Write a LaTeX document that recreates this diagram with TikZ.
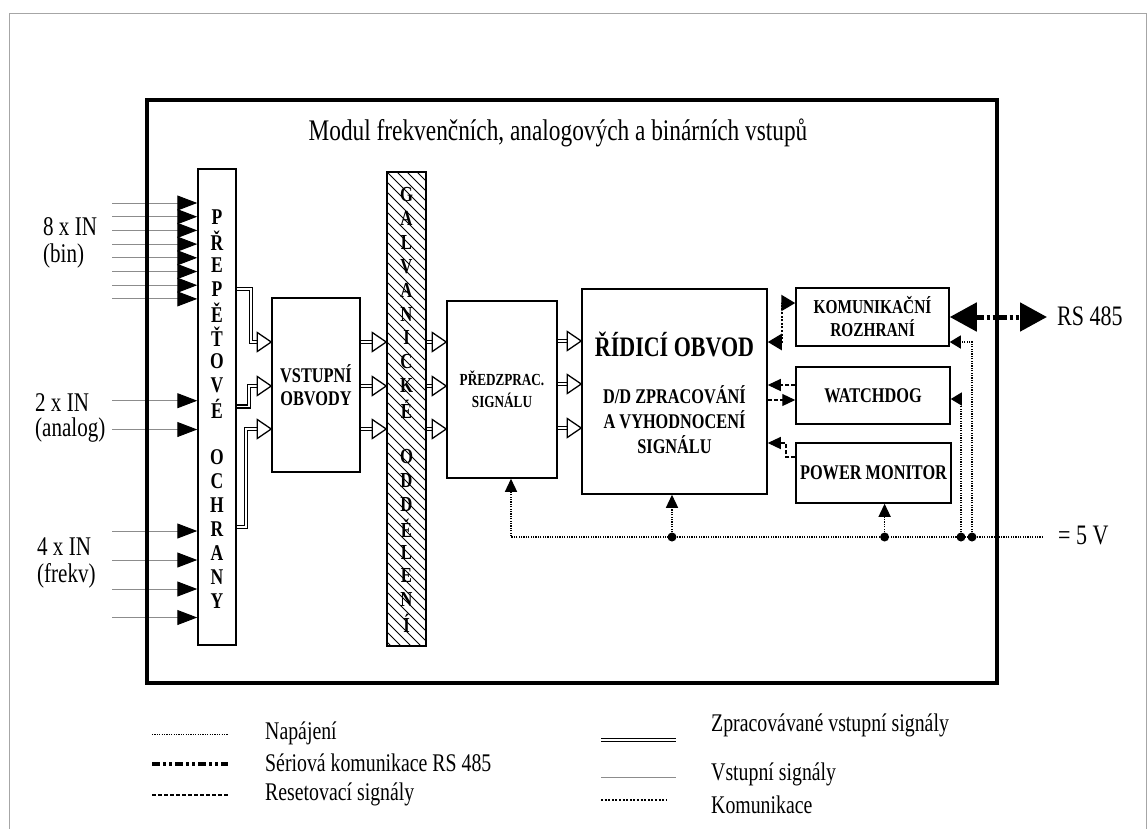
\documentclass[tikz,border=0pt]{standalone}
\usepackage{fontspec}
\setmainfont{Liberation Serif}[FakeStretch=0.78]
\usetikzlibrary{arrows.meta}
\newcommand\fsz[2]{\fontsize{#1}{#2}\selectfont}
\newcommand\harr[1]{\draw[harrow] #1 -- ++(-14,-9.5) -- ++(0,19) -- cycle;}
\tikzset{
  tipK/.tip={Triangle[length=14pt,width=16pt]},
  tipR/.tip={Triangle[length=13pt,width=12pt]},
  tipP/.tip={Triangle[length=13pt,width=12pt]},
  tipQ/.tip={Triangle[length=11pt,width=13pt]},
  tipS/.tip={Triangle[length=27pt,width=28pt]},
  tipI/.tip={Triangle[length=20pt,width=15pt,color=black]}
}
\begin{document}
\begin{tikzpicture}[x=1pt,y=-1pt,
  box/.style={draw, line width=1.5pt, inner sep=0pt},
  btxt/.style={font=\bfseries\fsz{20.9}{23}, align=center},
  vlet/.style={font=\bfseries\fsz{22.5}{22}, inner sep=0pt},
  glet/.style={font=\bfseries\fsz{21.4}{21}, inner sep=0pt},
  lbl/.style={font=\fsz{27}{28}, inner sep=0pt, anchor=base west},
  leg/.style={font=\fsz{25.4}{26}, inner sep=0pt, anchor=west},
  inp/.style={draw=black!45, line width=1pt, -{tipI}},
  dbl/.style={draw=black, double=white, double distance=1.9pt, line width=1.2pt},
  harrow/.style={draw, fill=white, line width=1.3pt, line join=miter},
  komm/.style={line width=2.4pt, dash pattern=on 2pt off 1.6pt},
  reset/.style={line width=1.2pt, dash pattern=on 4pt off 2pt},
  pwr/.style={line width=1.3pt, dash pattern=on 1.2pt off 1.2pt},
  rs/.style={line width=5pt, dash pattern=on 8pt off 3pt on 3pt off 3pt on 3pt off 3pt},
  dot/.style={circle, fill, inner sep=0pt, minimum size=9pt}
]
\useasboundingbox (0,0) rectangle (1148,828);
\clip (0,0) rectangle (1148,828);
\fill[white] (0,0) rectangle (1148,828);
\draw[black!35, line width=1pt] (9.5,840) -- (9.5,13.5) -- (1146.5,13.5) -- (1146.5,840);

% title
\node[font=\fsz{29.9}{30}, anchor=base, inner sep=0pt] (title) at (558,140) {Modul frekvenčních, analogových a binárních vstupů};

% blocks
\node[box, minimum width=38pt, minimum height=476pt] (ochr) at (217,407) {};
\foreach \c [count=\i from 0] in {P,Ř,E,P,Ě,Ť,O,V,É,{},O,C,H,R,A,N,Y}
  \node[vlet] (pl\i) at (217,217+24*\i) {\c};
\node[box, btxt, minimum width=88pt, minimum height=174pt] (vst) at (316,385) {VSTUPNÍ\\OBVODY};

\begin{scope}
  \clip (387,172) rectangle (426,646);
  \foreach \k in {-5,...,50} \draw[line width=0.8pt] (387,172+10*\k) -- ++(40,40);
\end{scope}
\node[box, minimum width=39pt, minimum height=474pt] (galv) at (406.5,409) {};
\foreach \c [count=\i from 0] in {G,A,L,V,A,N,I,C,K,É,{},O,D,D,Ě,L,E,N,Í}
  \node[glet] (gl\i) at (406.5,195+23.8*\i) {\c};

\node[box, font=\bfseries\fsz{16.9}{22}, align=center, minimum width=110pt, minimum height=177pt] (pred) at (502,389.5) {PŘEDZPRAC.\\SIGNÁLU};
\node[box, minimum width=185pt, minimum height=205pt] (ridi) at (674.5,391.5) {};
\node[font=\bfseries\fsz{28.2}{28}, inner sep=0pt] (rt1) at (674.5,344) {ŘÍDICÍ OBVOD};
\node[btxt, font=\bfseries\fsz{20.9}{25}, inner sep=0pt] (rt2) at (674.5,420) {D/D ZPRACOVÁNÍ\\A VYHODNOCENÍ\\SIGNÁLU};
\node[box, btxt, font=\bfseries\fsz{19.7}{23}, minimum width=153pt, minimum height=58pt] (kom) at (872.5,317) {KOMUNIKAČNÍ\\ROZHRANÍ};
\node[box, btxt, minimum width=154pt, minimum height=57pt] (wd) at (873,395.5) {WATCHDOG};
\node[box, btxt, minimum width=155pt, minimum height=60pt] (pm) at (873.5,473) {POWER MONITOR};

% inputs
\foreach \y [count=\i] in {203,216.7,230.4,244.1,257.8,271.5,285.2,298.9,400.7,429.5,531,560,589,617.5} {
  \coordinate (in\i) at (112,\y);
  \draw[inp] (in\i) -- (in\i -| ochr.west);
}
\node[lbl] (b1) at (43,235) {8 x IN};
\node[lbl] (b2) at (43,262) {(bin)};
\node[lbl] (a1) at (35,411) {2 x IN};
\node[lbl] (a2) at (35,436) {(analog)};
\node[lbl] (f1) at (37,555) {4 x IN};
\node[lbl] (f2) at (37,582) {(frekv)};

% processed signals
\draw[dbl] (ochr.east |- 0,289) -| (251,342) -- (258,342);
\harr{(vst.west |- 0,342)}
\draw[dbl] (ochr.east |- 0,406.5) -| (249,386) -- (258,386);
\harr{(vst.west |- 0,386)}
\draw[dbl] (ochr.east |- 0,527) -| (246,429) -- (258,429);
\harr{(vst.west |- 0,429)}
\foreach \y in {342,386,429} {
  \draw[dbl] (vst.east |- 0,\y) -- (374,\y);
  \harr{(galv.west |- 0,\y)}
  \draw[dbl] (galv.east |- 0,\y) -- (433,\y);
  \harr{(pred.west |- 0,\y)}
}
\foreach \y in {341,384,428} {
  \draw[dbl] (pred.east |- 0,\y) -- (568,\y);
  \harr{(ridi.west |- 0,\y)}
}

% communication
\draw[komm, {tipK}-{tipK}] (ridi.east |- 0,342) -| (782,303) -- (kom.west |- 0,303);
% resets
\draw[reset, -{tipR}] (wd.west |- 0,385) -- (ridi.east |- 0,385);
\draw[reset, -{tipR}] (ridi.east |- 0,400) -- (wd.west |- 0,400);
\draw[reset, -{tipR}] (pm.west |- 0,457) -| (786,443) -- (ridi.east |- 0,443);

% power
\coordinate (pend) at (1043,537);
\node[dot] (j1) at (672,537) {};
\node[dot] (j2) at (884.6,537) {};
\node[dot] (j3) at (961,537) {};
\node[dot] (j4) at (972,537) {};
\draw[pwr, -{tipP}] (pend) -| (pred.south -| 511,0);
\draw[pwr, -{tipP}] (j1.center) -- (j1 |- ridi.south);
\draw[pwr, -{tipP}] (j2.center) -- (j2 |- pm.south);
\draw[pwr, -{tipQ}] (j3.center) |- (wd.east |- 0,399);
\draw[pwr, -{tipQ}] (j4.center) |- (kom.east |- 0,342);
\node[font=\fsz{28.2}{30}, anchor=west, inner sep=0pt] (v5) at (1058,535) {= 5 V};

% RS 485
\coordinate (rsend) at (1047,317);
\draw[rs, {tipS}-{tipS}] (kom.east |- 0,317) -- (rsend);
\node[font=\fsz{28.2}{30}, anchor=west, inner sep=0pt] (rs485) at (1057,316) {RS 485};

% main frame
\node[draw, line width=4.5pt, minimum width=850pt, minimum height=583pt, inner sep=0pt] (main) at (572,391.5) {};

% legend
\draw[pwr, line width=1pt] (152,734) -- (228,734);
\node[leg] (lg1) at (265,733) {Napájení};
\draw[rs, line width=4pt] (152,764) -- (228,764);
\node[leg] (lg2) at (265,763) {Sériová komunikace RS 485};
\draw[reset] (152,795) -- (228,795);
\node[leg] (lg3) at (265,794) {Resetovací signály};
\draw[dbl] (601,740) -- (676,740);
\node[leg] (lg4) at (711,725) {Zpracovávané vstupní signály};
\draw[black!45, line width=1pt] (601,777) -- (676,777);
\node[leg] (lg5) at (711,774) {Vstupní signály};
\draw[komm] (601,800) -- (667,800);
\node[leg] (lg6) at (711,805) {Komunikace};
\end{tikzpicture}
\end{document}
